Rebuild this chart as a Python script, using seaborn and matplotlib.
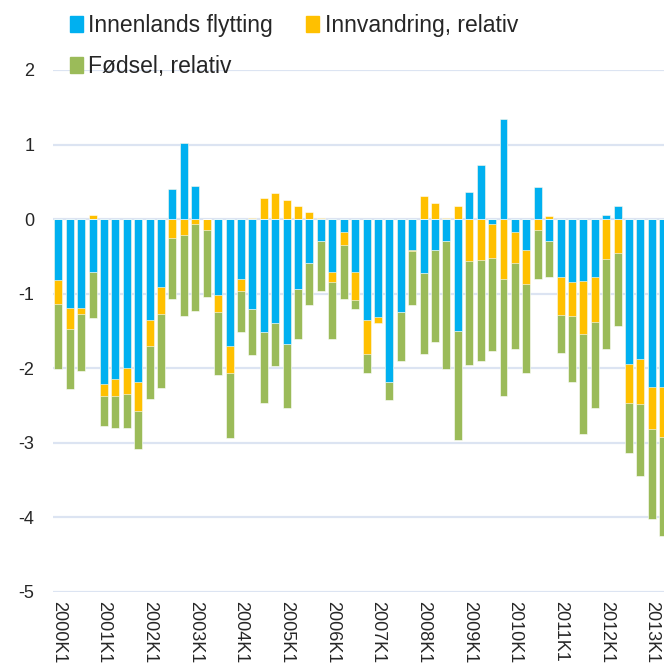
import numpy as np
import pandas as pd
import seaborn as sns
import matplotlib.pyplot as plt
from matplotlib.patches import Patch

# Quarterly values
years = list(range(2000, 2014))
quarters = [f"{y}K{q}" for y in years for q in range(1, 5)][:54]

innenlands = [
    -0.82, -1.19, -1.20, -0.71, -2.21, -2.15, -2.00, -2.18, -1.35, -0.91,
    0.41, 1.02, 0.45, 0.00, -1.02, -1.70, -0.81, -1.21, -1.51, -1.40,
    -1.68, -0.94, -0.59, -0.30, -0.71, -0.17, -0.71, -1.36, -1.31, -2.18,
    -1.25, -0.42, -0.72, -0.42, -0.30, -1.50, 0.36, 0.72, -0.06, 1.34,
    -0.18, -0.42, 0.43, -0.30, -0.78, -0.85, -0.83, -0.78, 0.06, 0.18,
    -1.95, -1.88, -2.25, -2.25,
]
innvandring = [
    -0.32, -0.28, -0.08, 0.05, -0.17, -0.23, -0.35, -0.40, -0.35, -0.37,
    -0.25, -0.21, -0.07, -0.15, -0.23, -0.37, -0.15, 0.02, 0.28, 0.35,
    0.26, 0.17, 0.09, 0.02, -0.14, -0.18, -0.37, -0.45, -0.08, -0.01,
    0.00, -0.01, 0.31, 0.21, 0.02, 0.17, -0.56, -0.55, -0.46, -0.81,
    -0.41, -0.45, -0.15, 0.04, -0.51, -0.45, -0.71, -0.60, -0.53, -0.46,
    -0.52, -0.60, -0.57, -0.67,
]
fodsel = [
    -0.87, -0.81, -0.76, -0.62, -0.40, -0.43, -0.46, -0.50, -0.71, -0.99,
    -0.82, -1.09, -1.17, -0.89, -0.84, -0.87, -0.55, -0.61, -0.96, -0.57,
    -0.85, -0.67, -0.56, -0.67, -0.76, -0.72, -0.13, -0.25, -0.01, -0.24,
    -0.65, -0.72, -1.09, -1.23, -1.71, -1.47, -1.40, -1.36, -1.25, -1.57,
    -1.16, -1.20, -0.66, -0.48, -0.51, -0.88, -1.34, -1.16, -1.22, -0.97,
    -0.67, -0.97, -1.20, -1.33,
]

c_blue = "#00B0F0"
c_orange = "#FFC000"
c_green = "#9BBB59"

b = np.array(innenlands)
o = np.array(innvandring)
g = np.array(fodsel)

# Excel-style stacking: positives upward, negatives downward, in series order
pos_b = np.clip(b, 0, None)
pos_o = pos_b + np.clip(o, 0, None)
neg_b = np.clip(b, None, 0)
neg_o = neg_b + np.clip(o, None, 0)
neg_g = neg_o + np.clip(g, None, 0)

df = pd.DataFrame({"kvartal": quarters, "pos_b": pos_b, "pos_o": pos_o,
                   "neg_b": neg_b, "neg_o": neg_o, "neg_g": neg_g})

sns.set_style("white")
plt.rcParams["font.family"] = ["Liberation Sans", "DejaVu Sans"]
plt.rcParams["axes.unicode_minus"] = False

fig = plt.figure(figsize=(6.64, 6.72), dpi=100)
ax = fig.add_axes([53 / 664, 80.3 / 672, 611 / 664, 521.7 / 672])

kw = dict(x="kvartal", order=quarters, width=0.7, saturation=1,
          errorbar=None, edgecolor="white", linewidth=0.4, ax=ax, zorder=3)
sns.barplot(data=df, y="neg_g", color=c_green, **kw)
sns.barplot(data=df, y="neg_o", color=c_orange, **kw)
sns.barplot(data=df, y="pos_o", color=c_orange, **kw)
sns.barplot(data=df, y="neg_b", color=c_blue, **kw)
sns.barplot(data=df, y="pos_b", color=c_blue, **kw)

ax.set_ylim(-5, 2)
ax.set_xlim(-0.465, 53.06)
ax.set_yticks(range(-5, 3))
ax.set_yticklabels([str(v) for v in range(-5, 3)], fontsize=13)
ax.set_xticks(range(0, 54, 4))
ax.set_xticklabels(quarters[::4], rotation=270, fontsize=13, va="top", ha="center")
ax.tick_params(axis="y", length=0, pad=13.5)
ax.tick_params(axis="x", length=0, pad=7)
ax.set_xlabel("")
ax.set_ylabel("")
ax.grid(axis="y", color="#DCE4F2", linewidth=1.6, zorder=0)
ax.set_axisbelow(True)
for s in ax.spines.values():
    s.set_visible(False)

handles = [Patch(color=c_blue), Patch(color=c_green), Patch(color=c_orange)]
labels = ["Innenlands flytting", "Fødsel, relativ", "Innvandring, relativ"]
fig.legend(handles, labels, ncol=2, loc="upper left",
           bbox_to_anchor=(70 / 664, 1 - 14 / 672), frameon=False,
           fontsize=16.5, handlelength=0.55, handleheight=0.68,
           handletextpad=0.25, columnspacing=1.45, labelspacing=0.8,
           borderpad=0, borderaxespad=0)

fig.savefig("out.png", dpi=100)
